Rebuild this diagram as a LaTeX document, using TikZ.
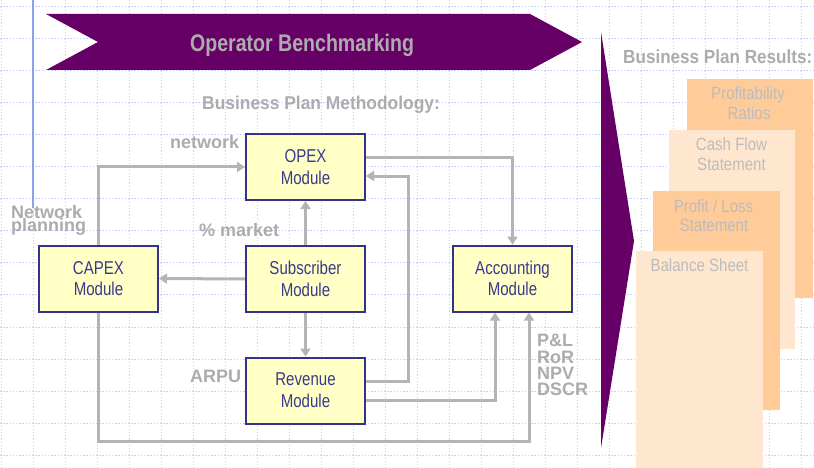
\documentclass[tikz,border=0pt]{standalone}
\usepackage{fontspec}
\setmainfont{Liberation Sans}
\newfontfamily\boxfont{Liberation Sans}[FakeStretch=0.81]
\newfontfamily\resfont{Liberation Sans}[FakeStretch=0.85]
\newfontfamily\bannerfont{Liberation Sans}[FakeStretch=0.815]
\newfontfamily\methfont{Liberation Sans}[FakeStretch=0.94]
\newfontfamily\resheadfont{Liberation Sans}[FakeStretch=0.9]
\usetikzlibrary{arrows.meta}

\definecolor{plum}{RGB}{102,0,102}
\definecolor{boxfill}{RGB}{255,255,198}
\definecolor{boxline}{RGB}{51,51,140}
\definecolor{boxtext}{RGB}{58,58,140}
\definecolor{labelgray}{RGB}{172,172,172}
\definecolor{wiregray}{RGB}{180,180,180}
\definecolor{peachdark}{RGB}{255,204,153}
\definecolor{peachlight}{RGB}{255,230,206}
\definecolor{restext}{RGB}{188,188,188}
\definecolor{gridblue}{RGB}{198,208,248}
\definecolor{rulerblue}{RGB}{140,160,240}

\tikzset{
  gridline/.style={draw=gridblue, line width=1pt, dash pattern=on 1.3pt off 1.9pt},
  module/.style={draw=boxline, fill=boxfill, line width=2pt,
    minimum width=119pt, minimum height=66pt, inner sep=0pt, align=center,
    text=boxtext, font=\boxfont\fontsize{18.6}{21.7}\selectfont},
  wire/.style={draw=wiregray, line width=3pt,
    -{Triangle[length=8pt,width=10pt]}},
  tag/.style={text=labelgray, inner sep=0pt, anchor=base west,
    font=\bfseries\fontsize{18}{18}\selectfont},
  restxt/.style={text=restext, inner sep=0pt, anchor=base,
    font=\resfont\fontsize{17.7}{19.5}\selectfont}
}

\begin{document}
\begin{tikzpicture}[x=1pt,y=-1pt]
\useasboundingbox (0,0) rectangle (814,468);
\clip (0,0) rectangle (814,468);
\fill[white] (0,0) rectangle (814,468);

% dotted background grid
\foreach \i in {0,...,25}
  \draw[gridline] ({1+32.03*\i},0) -- ({1+32.03*\i},468);
\foreach \j in {0,...,14}
  \draw[gridline] (0,{6.7+32.03*\j}) -- (814,{6.7+32.03*\j});

% solid margin rule
\draw[rulerblue, line width=1.2pt] (33,0) -- (33,208);

% banner and big result arrow
\fill[plum] (46,14) -- (530,14) -- (582,42) -- (530,70) -- (46,70) -- (98,42) -- cycle;
\fill[plum] (601,32) -- (634,241) -- (601,448) -- cycle;

\node[tag, font=\bannerfont\bfseries\fontsize{24}{24}\selectfont] (bench) at (190,51.7) {Operator Benchmarking};
\node[tag, font=\methfont\bfseries\fontsize{18.5}{18.5}\selectfont] (method) at (202,109.3) {Business Plan Methodology:};
\node[tag, font=\resheadfont\bfseries\fontsize{19}{19}\selectfont] (results) at (623,63.3) {Business Plan Results:};

% stacked result sheets
\fill[peachdark]  (687,79)  rectangle (813,298);
\node[restxt] (prA) at (748,100) {Profitability};
\node[restxt] (prB) at (749,119.3) {Ratios};
\fill[peachlight] (669,130) rectangle (795,349);
\node[restxt] (cfA) at (731.5,151) {Cash Flow};
\node[restxt] (cfB) at (731.5,170.7) {Statement};
\fill[peachdark]  (653,191) rectangle (780,410);
\node[restxt] (plA) at (713.5,212.3) {Profit / Loss};
\node[restxt] (plB) at (714,231.7) {Statement};
\fill[peachlight] (636,251) rectangle (763,468);
\node[restxt] (bs) at (699.5,271.7) {Balance Sheet};

% modules
\node[module] (opex) at (305.5,167)   {OPEX\\Module};
\node[module] (sub)  at (305.5,279)   {Subscriber\\Module};
\node[module] (capex) at (98.5,278.5) {CAPEX\\Module};
\node[module] (acct) at (512.5,278.5) {Accounting\\Module};
\node[module] (rev)  at (305.5,390.5) {Revenue\\Module};

% connectors
\draw[wire] (capex.north) |- (opex.west);
\draw[wire] (sub.west) -- (capex.east);
\draw[wire] (sub.north) -- (opex.south);
\draw[wire] (sub.south) -- (rev.north);
\draw[wire] ([yshift=9pt]opex.east) -| (acct.north);
\draw[wire] ([yshift=9.5pt]rev.east) -- ++(42,0) |- ([yshift=-9pt]opex.east);
\draw[wire] ([yshift=-9.5pt]rev.east) -| ([xshift=-17.5pt]acct.south);
\draw[wire] (capex.south) -- ++(0,129) -| ([xshift=16.5pt]acct.south);

% connector labels
\node[tag] (lnet) at (170,149) {network};
\node[tag] (lnp1) at (11,218.3) {Network};
\node[tag] (lnp2) at (11,231.7) {planning};
\node[tag] (lmkt) at (199,236.7) {\% market};
\node[tag] (larpu) at (190,382) {ARPU};
\node[tag] (lpl)  at (537,346.7) {P\&L};
\node[tag] (lror) at (537,363) {RoR};
\node[tag] (lnpv) at (537,379) {NPV};
\node[tag] (ldscr) at (537,395) {DSCR};
\end{tikzpicture}
\end{document}
